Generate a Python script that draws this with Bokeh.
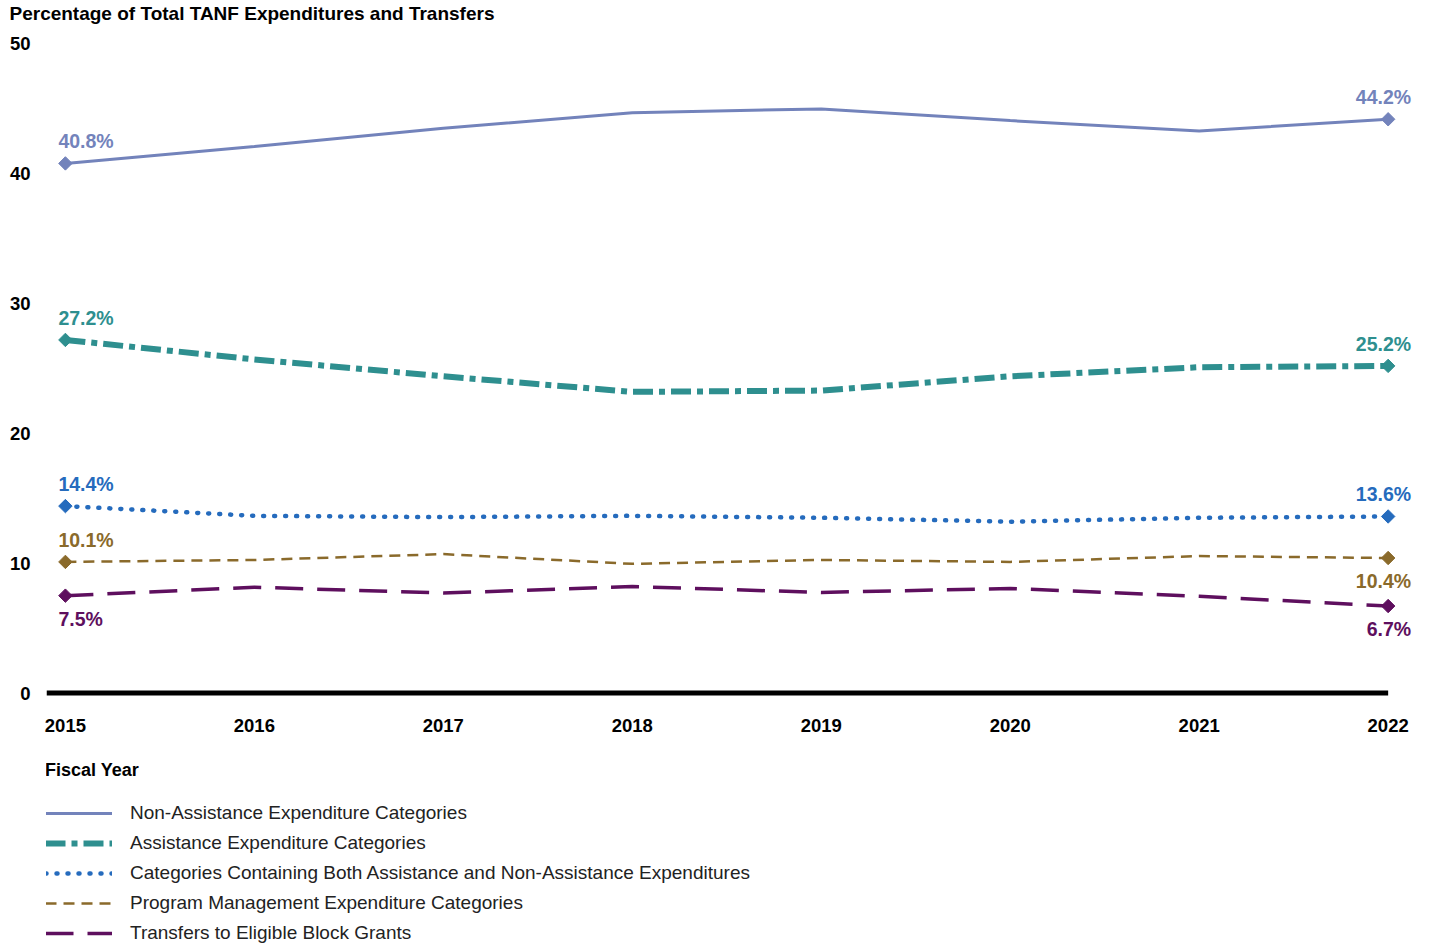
from bokeh.plotting import figure
from bokeh.models import Range1d, Legend, LegendItem, ColumnDataSource
from bokeh.layouts import column
from bokeh.core.properties import value
from bokeh.embed import file_html
from bokeh.resources import INLINE

# ---- data ----
years = [2015, 2016, 2017, 2018, 2019, 2020, 2021, 2022]
non_assistance = [40.8, 42.1, 43.5, 44.7, 45.0, 44.1, 43.3, 44.2]
assistance = [27.2, 25.7, 24.4, 23.2, 23.3, 24.4, 25.1, 25.2]
both_categories = [14.4, 13.65, 13.55, 13.65, 13.5, 13.2, 13.5, 13.6]
program_management = [10.1, 10.25, 10.7, 9.95, 10.25, 10.1, 10.55, 10.4]
transfers = [7.5, 8.15, 7.7, 8.2, 7.75, 8.05, 7.45, 6.7]

series_names = [
    "Non-Assistance Expenditure Categories",
    "Assistance Expenditure Categories",
    "Categories Containing Both Assistance and Non-Assistance Expenditures",
    "Program Management Expenditure Categories",
    "Transfers to Eligible Block Grants",
]
series_values = [non_assistance, assistance, both_categories, program_management, transfers]
y_ticks = [0, 10, 20, 30, 40, 50]

title_text = "Percentage of Total TANF Expenditures and Transfers"
x_title = "Fiscal Year"

# ---- styles ----
colors = ["#7383BB", "#2E8F8F", "#256BBD", "#8A6A2B", "#5E0F5E"]
widths = [3, 6, 4.5, 2.5, 3.5]
dashes = ["solid", "20 6 6 6", "1 10", "11 7", "28 14"]
caps = ["butt", "butt", "round", "butt", "butt"]
label_above = [(True, True), (True, True), (True, True), (True, False), (False, False)]

FONT = value("Liberation Sans")
W = 1420


def blank(fig):
    fig.outline_line_color = None
    fig.xgrid.visible = False
    fig.ygrid.visible = False
    fig.background_fill_color = "white"
    fig.border_fill_color = "white"


# ---- title strip ----
tf = figure(width=W, height=31, output_backend="svg", toolbar_location=None,
            x_range=Range1d(0, 1), y_range=Range1d(0, 1),
            x_axis_location=None, y_axis_location=None, title=title_text,
            min_border_left=0, min_border_right=0, min_border_top=2, min_border_bottom=0)
blank(tf)
tf.title.align = "left"
tf.title.offset = -37
tf.title.standoff = 0
tf.title.text_font = "Liberation Sans"
tf.title.text_font_style = "bold"
tf.title.text_font_size = "19px"
tf.title.text_color = "black"

# ---- main chart ----
p = figure(width=W, height=714, output_backend="svg", toolbar_location=None,
           title_location=None,
           x_range=Range1d(2014.9, 2022.15), y_range=Range1d(-0.5, 50.5),
           min_border_left=46, min_border_right=4, min_border_top=6, min_border_bottom=46)
blank(p)

for ax in (p.xaxis[0], p.yaxis[0]):
    ax.axis_line_color = None
    ax.major_tick_line_color = None
    ax.minor_tick_line_color = None
    ax.major_tick_out = 0
    ax.major_tick_in = 0
    ax.major_label_text_font = "Liberation Sans"
    ax.major_label_text_font_style = "bold"
    ax.major_label_text_font_size = "18.5px"
    ax.major_label_text_color = "black"
p.xaxis.ticker = years
p.yaxis.ticker = y_ticks
p.xaxis.major_label_standoff = 19
p.yaxis.major_label_standoff = 16

# zero baseline
p.segment(x0=[p.x_range.start], y0=[0], x1=[years[-1]], y1=[0],
          line_width=5, line_color="black")

for vals, c, w, d, cap, above in zip(series_values, colors, widths, dashes, caps, label_above):
    p.line(years, vals, line_color=c, line_width=w, line_dash=d, line_cap=cap)
    ends_x = [years[0], years[-1]]
    ends_y = [vals[0], vals[-1]]
    p.scatter(ends_x, ends_y, marker="square", angle=0.785398, size=9.5,
              fill_color=c, line_color=c)
    for xv, yv, is_above, align, xoff in ((ends_x[0], ends_y[0], above[0], "left", -7),
                                          (ends_x[1], ends_y[1], above[1], "right", 23)):
        src = ColumnDataSource(dict(x=[xv], y=[yv], t=[f"{yv:.1f}%"]))
        p.text(x="x", y="y", text="t", source=src, text_color=c, text_font=FONT,
               text_font_style="bold", text_font_size="19.5px", text_align=align,
               text_baseline="middle", x_offset=xoff, y_offset=(-22 if is_above else 23))

# ---- legend panel (separate figure under the chart; its range hides the copies) ----
lg = figure(width=W, height=199, output_backend="svg", toolbar_location=None,
            x_range=Range1d(0, 1), y_range=Range1d(0, 1),
            x_axis_location=None, y_axis_location=None,
            min_border_left=0, min_border_right=0, min_border_top=0, min_border_bottom=0)
blank(lg)

items = []
for name, vals, c, w, d, cap in zip(series_names, series_values, colors, widths, dashes, caps):
    r = lg.line(years, vals, line_color=c, line_width=w, line_dash=d, line_cap=cap)
    items.append(LegendItem(label=name, renderers=[r]))

legend = Legend(items=items, location=(-1, -4), orientation="vertical",
                title=x_title, title_text_font="Liberation Sans", title_text_font_style="bold",
                title_text_font_size="18px", title_text_color="black", title_standoff=17,
                glyph_width=67, glyph_height=30, label_height=30, spacing=0,
                padding=0, margin=0, label_standoff=18,
                label_text_font="Liberation Sans", label_text_font_size="19px",
                label_text_color="#222222", border_line_color=None,
                background_fill_alpha=0)
lg.add_layout(legend, "center")

layout = column(tf, p, lg, spacing=0)
open("out.html", "w").write(file_html(layout, INLINE))
